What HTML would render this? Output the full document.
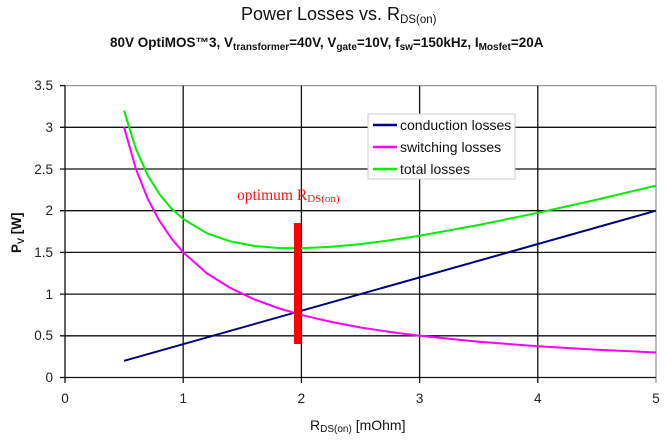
<!DOCTYPE html>
<html><head><meta charset="utf-8"><style>
html,body{margin:0;padding:0;background:#fff;}
svg{display:block;}
text{font-family:"Liberation Sans",Arial,sans-serif;}
</style></head><body>
<svg width="667" height="440" viewBox="0 0 667 440" xmlns="http://www.w3.org/2000/svg">
<rect width="667" height="440" fill="#fff"/>
<!-- Titles -->
<text x="241" y="20" font-size="18" fill="#111">Power Losses vs. R<tspan font-size="11.5" dy="3">DS(on)</tspan></text>
<text x="110" y="47" font-size="13.5" font-weight="bold" fill="#111">80V OptiMOS™3, V<tspan font-size="10" dy="3">transformer</tspan><tspan dy="-3">=40V, V</tspan><tspan font-size="10" dy="3">gate</tspan><tspan dy="-3">=10V, f</tspan><tspan font-size="10" dy="3">sw</tspan><tspan dy="-3">=150kHz, I</tspan><tspan font-size="10" dy="3">Mosfet</tspan><tspan dy="-3">=20A</tspan></text>

<!-- plot frame: top & right gray -->
<line x1="65" y1="85.6" x2="656" y2="85.6" stroke="#999" stroke-width="1.3"/>
<line x1="656" y1="85.6" x2="656" y2="383" stroke="#999" stroke-width="1.3"/>
<!-- horizontal gridlines -->
<g stroke="#111" stroke-width="1.3">
<line x1="60" y1="127.3" x2="656" y2="127.3"/>
<line x1="60" y1="169.0" x2="656" y2="169.0"/>
<line x1="60" y1="210.7" x2="656" y2="210.7"/>
<line x1="60" y1="252.4" x2="656" y2="252.4"/>
<line x1="60" y1="294.1" x2="656" y2="294.1"/>
<line x1="60" y1="335.8" x2="656" y2="335.8"/>
<line x1="60" y1="85.6" x2="65" y2="85.6"/>
<!-- vertical gridlines -->
<line x1="183.2" y1="85.6" x2="183.2" y2="383"/>
<line x1="301.4" y1="85.6" x2="301.4" y2="383"/>
<line x1="419.6" y1="85.6" x2="419.6" y2="383"/>
<line x1="537.8" y1="85.6" x2="537.8" y2="383"/>
<!-- axes -->
<line x1="65" y1="85.6" x2="65" y2="383"/>
<line x1="60" y1="377.5" x2="656" y2="377.5"/>
</g>

<!-- Y tick labels -->
<g font-size="13.5" fill="#222" text-anchor="end">
<text x="53" y="90">3.5</text>
<text x="53" y="132">3</text>
<text x="53" y="174">2.5</text>
<text x="53" y="215">2</text>
<text x="53" y="257">1.5</text>
<text x="53" y="299">1</text>
<text x="53" y="340">0.5</text>
<text x="53" y="382">0</text>
</g>
<!-- X tick labels -->
<g font-size="13.5" fill="#222" text-anchor="middle">
<text x="65" y="403">0</text>
<text x="183.2" y="403">1</text>
<text x="301.4" y="403">2</text>
<text x="419.6" y="403">3</text>
<text x="537.8" y="403">4</text>
<text x="656" y="403">5</text>
</g>
<!-- axis titles -->
<text x="310" y="430" font-size="14" fill="#111">R<tspan font-size="10" dy="2">DS(on)</tspan><tspan dy="-2"> [mOhm]</tspan></text>
<text transform="translate(21,253) rotate(-90)" font-size="13.5" font-weight="bold" fill="#111">P<tspan font-size="9" dy="3">V</tspan><tspan dy="-3"> [W]</tspan></text>

<!-- series -->
<polyline fill="none" stroke="#000080" stroke-width="2" points="124.1,360.8 656,210.7"/>
<polyline fill="none" stroke="#ff00ff" stroke-width="2" stroke-linejoin="round" points="124.1,127.3 135.9,169.0 147.7,198.8 159.6,221.1 171.4,238.5 183.2,252.4 206.8,273.25 230.5,288.1 254.1,299.3 277.8,308.0 301.4,314.95 331.0,321.9 360.5,327.5 390.1,332.0 419.6,335.8 478.7,341.8 537.8,346.2 596.9,349.7 656,352.5"/>
<polyline fill="none" stroke="#00ee00" stroke-width="2" stroke-linejoin="round" points="124.1,110.6 135.9,149.0 147.7,175.4 159.6,194.4 171.4,208.5 183.2,219.0 206.8,233.2 230.5,241.4 254.1,245.9 277.8,248.0 301.4,248.2 331.0,246.8 360.5,244.1 390.1,240.3 419.6,235.7 478.7,225.0 537.8,212.8 596.9,199.6 656,185.7"/>

<!-- optimum bar -->
<rect x="294" y="223" width="7" height="121" fill="#ff0000"/>
<text x="237" y="200" font-size="15.5" fill="#ff1010" style="font-family:'Liberation Serif','Times New Roman',serif">optimum R<tspan font-size="11" dy="2">DS(on)</tspan></text>

<!-- legend -->
<rect x="368" y="114" width="147" height="65" fill="#fff" stroke="#ccc" stroke-width="1"/>
<line x1="373" y1="125" x2="397" y2="125" stroke="#000080" stroke-width="2.5"/>
<line x1="373" y1="147" x2="397" y2="147" stroke="#ff00ff" stroke-width="2.5"/>
<line x1="373" y1="169" x2="397" y2="169" stroke="#00ee00" stroke-width="2.5"/>
<g font-size="14" fill="#111">
<text x="400" y="130">conduction losses</text>
<text x="400" y="152">switching losses</text>
<text x="400" y="174">total losses</text>
</g>
</svg>
</body></html>
